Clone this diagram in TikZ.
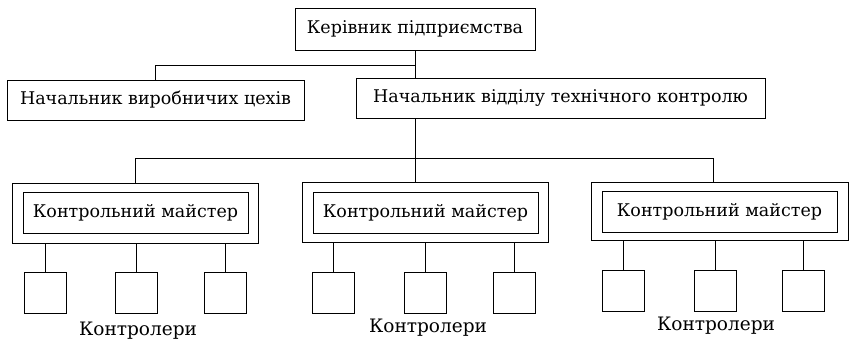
\documentclass[tikz,border=0pt]{standalone}
\usepackage{fontspec}
\setmainfont{DejaVu Serif}
\begin{document}
\begin{tikzpicture}[x=1pt,y=-1pt,
  line width=0.8pt,
  box/.style={draw,inner sep=0pt,font=\fontsize{17.5}{20}\selectfont},
  small/.style={draw,inner sep=0pt,minimum width=42pt,minimum height=41pt},
  lbl/.style={font=\fontsize{18.5}{22}\selectfont}]
\useasboundingbox (0,0) rectangle (863,346);
% top levels
\node[box,minimum width=240pt,minimum height=42pt] (top) at (415,29) {Керівник підприємства};
\node[box,minimum width=297pt,minimum height=40pt] (lb) at (155.5,100) {Начальник виробничих цехів};
\node[box,minimum width=409pt,minimum height=40pt] (rb) at (560.5,98) {Начальник відділу технічного контролю};
\coordinate (j1) at (415,65);
\coordinate (j0) at (155,65);
\draw (top.south) -- (j1) -- (j0) -- (j0 |- lb.north);
\draw (j1) -- (j1 |- rb.north);
% masters
\node[draw,inner sep=0pt,minimum width=246pt,minimum height=60pt] (m1o) at (135,213) {};
\node[box,minimum width=225pt,minimum height=41pt] (m1) at (135.5,212.5) {Контрольний майстер};
\node[draw,inner sep=0pt,minimum width=246pt,minimum height=60pt] (m2o) at (425,212.5) {};
\node[box,minimum width=225pt,minimum height=41pt] (m2) at (425.5,212.5) {Контрольний майстер};
\node[draw,inner sep=0pt,minimum width=257pt,minimum height=58pt] (m3o) at (719.5,211) {};
\node[box,minimum width=235pt,minimum height=41pt] (m3) at (719.5,211.5) {Контрольний майстер};
\coordinate (b1) at (135,158);
\coordinate (b2) at (415,158);
\coordinate (b3) at (713,158);
\draw (j1 |- rb.south) -- (b2);
\draw (b1) -- (b3);
\draw (b1) -- (b1 |- m1o.north);
\draw (b2) -- (b2 |- m2o.north);
\draw (b3) -- (b3 |- m3o.north);
% controllers
\foreach \n/\x/\y/\m in {c1a/45.5/292.5/m1o, c1b/136.5/292.5/m1o, c1c/225.5/292.5/m1o,
                        c2a/333/292.5/m2o, c2b/425/292.5/m2o, c2c/514/292.5/m2o,
                        c3a/623/291/m3o, c3b/715/291/m3o, c3c/803/291/m3o}{
  \node[small] (\n) at (\x,\y) {};
  \draw (\n.north) -- (\n.north |- \m.south);
}
\node[lbl] (l1) at (138,331) {Контролери};
\node[lbl] (l2) at (428,328) {Контролери};
\node[lbl] (l3) at (716,326) {Контролери};
\end{tikzpicture}
\end{document}
